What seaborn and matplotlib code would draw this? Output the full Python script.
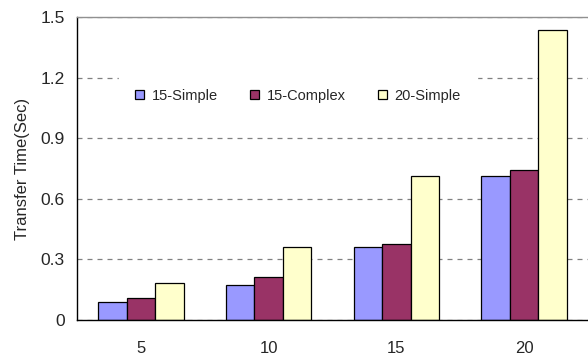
import pandas as pd
import matplotlib
matplotlib.use("Agg")
import matplotlib.pyplot as plt
import seaborn as sns

# values
categories = ["5", "10", "15", "20"]
series = ["15-Simple", "15-Complex", "20-Simple"]
simple_15 = [0.091, 0.175, 0.360, 0.711]
complex_15 = [0.107, 0.213, 0.376, 0.741]
simple_20 = [0.183, 0.360, 0.714, 1.434]
colors = ["#9999FF", "#993366", "#FFFFCC"]
y_ticks = [0, 0.3, 0.6, 0.9, 1.2, 1.5]
y_tick_labels = ["0", "0.3", "0.6", "0.9", "1.2", "1.5"]

df = pd.DataFrame({
    "size": categories * 3,
    "series": [s for s in series for _ in categories],
    "time": simple_15 + complex_15 + simple_20,
})

sns.set_style("white")
plt.rcParams["font.family"] = ["Liberation Sans", "DejaVu Sans"]

fig = plt.figure(figsize=(5.88, 3.59), dpi=100)
ax = fig.add_axes([77 / 588, 1 - 320 / 359, 511 / 588, 303 / 359])

sns.barplot(data=df, x="size", y="time", hue="series", order=categories,
            hue_order=series, palette=colors, width=0.67, gap=0,
            edgecolor="black", linewidth=0.9, saturation=1, ax=ax)

ax.set_ylim(0, 1.5)
ax.set_xlim(-0.5, 3.5)
ax.set_yticks(y_ticks)
ax.set_yticklabels(y_tick_labels)
ax.set_axisbelow(True)
ax.yaxis.grid(True, linestyle=(0, (4, 4)), color="#808080", linewidth=0.9)
ax.xaxis.grid(False)

ax.set_xlabel("")
ax.set_ylabel("Transfer Time(Sec)", fontsize=12, labelpad=7)
ax.tick_params(axis="y", labelsize=12.5, length=0, pad=9)
ax.tick_params(axis="x", labelsize=12, length=0, pad=15)

# small inward ticks between categories
ax.set_xticks([0.5, 1.5, 2.5], minor=True)
ax.tick_params(axis="x", which="minor", direction="in", length=5, width=1, color="#404040")

for side in ["left", "bottom"]:
    ax.spines[side].set_color("black")
    ax.spines[side].set_linewidth(1)
ax.spines["top"].set_color("#909090")
ax.spines["top"].set_linewidth(1)
ax.spines["right"].set_visible(False)

leg = ax.legend(loc="center", bbox_to_anchor=(298 / 588, 1 - 96 / 359),
                bbox_transform=fig.transFigure, ncol=3, frameon=True,
                fontsize=10.5, handlelength=0.6, handleheight=0.6,
                handletextpad=0.5, columnspacing=2.25, borderpad=1.1)
leg.get_frame().set_facecolor("white")
leg.get_frame().set_edgecolor("white")
leg.get_frame().set_alpha(1)
leg.get_frame().set_boxstyle("square", pad=0)

fig.savefig("out.png", dpi=100)
